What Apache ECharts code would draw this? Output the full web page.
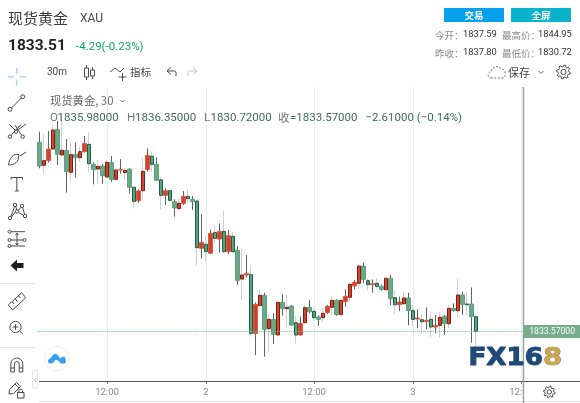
<!DOCTYPE html>
<html>
<head>
<meta charset="utf-8">
<style>
html,body{margin:0;padding:0;background:#fff;overflow:hidden}
#c{width:580px;height:403px;filter:blur(0.3px)}
</style>
<script src="https://cdn.jsdelivr.net/npm/echarts@6/dist/echarts.min.js"></script>
</head>
<body>
<div id="c"></div>
<script>
const opens = [1864.40,1860.65,1861.41,1863.31,1866.52,1862.34,1863.10,1859.51,1862.44,1861.90,
1862.88,1864.07,1860.81,1860.05,1860.54,1858.75,1861.14,1858.37,1859.89,1859.46,
1860.05,1857.07,1854.89,1856.52,1859.95,1862.12,1860.81,1858.29,1855.76,1856.52,
1854.73,1853.59,1854.46,1855.60,1855.11,1854.84,1847.12,1847.77,1846.31,1849.68,
1848.64,1849.89,1846.58,1849.08,1846.80,1842.12,1842.78,1842.83,1833.27,1837.78,
1839.46,1834.03,1835.55,1833.00,1838.32,1837.29,1837.72,1835.01,1833.00,1835.01,
1837.51,1836.85,1835.93,1835.82,1836.64,1837.51,1838.65,1836.31,1838.43,1839.14,
1840.98,1841.42,1844.24,1841.85,1841.20,1841.42,1840.93,1840.38,1842.23,1839.08,
1837.94,1838.10,1839.03,1836.96,1835.60,1835.49,1835.17,1835.55,1834.30,1834.57,
1836.04,1834.84,1837.34,1836.96,1839.52,1838.05,1838.05,1835.98];
const closes = [1860.54,1861.41,1863.31,1866.41,1862.44,1863.10,1859.62,1862.39,1861.90,1862.88,
1864.24,1860.92,1859.95,1860.49,1858.97,1861.14,1858.37,1859.89,1860.00,1859.84,
1857.07,1854.78,1856.47,1859.67,1862.28,1860.81,1858.21,1855.76,1856.52,1854.95,
1853.70,1854.46,1855.60,1855.22,1854.73,1847.23,1848.10,1846.58,1849.57,1848.75,
1849.89,1846.58,1849.19,1846.58,1841.91,1842.78,1843.05,1833.27,1838.00,1839.46,
1833.92,1835.55,1833.11,1838.32,1837.29,1837.51,1834.63,1833.00,1834.90,1837.45,
1836.80,1835.82,1835.55,1836.53,1837.67,1838.65,1836.31,1838.65,1839.30,1841.25,
1841.58,1844.24,1842.07,1841.20,1841.36,1840.93,1840.44,1842.23,1838.92,1837.94,
1838.37,1839.03,1836.96,1835.55,1835.77,1835.17,1835.39,1834.30,1834.57,1835.88,
1834.84,1837.34,1836.96,1839.52,1837.99,1837.94,1835.98,1833.57];
const lows = [1860.16,1859.24,1861.09,1863.15,1860.71,1862.17,1856.20,1857.99,1858.64,1861.25,
1862.72,1859.62,1857.55,1857.61,1857.66,1858.64,1857.99,1858.10,1859.29,1858.26,
1856.09,1853.64,1854.57,1855.11,1859.62,1859.62,1858.15,1853.48,1854.19,1854.84,
1852.28,1853.48,1854.19,1854.57,1853.37,1844.30,1845.44,1844.84,1846.25,1847.94,
1846.42,1846.31,1846.20,1846.31,1841.15,1838.70,1842.34,1832.72,1829.74,1837.72,
1829.47,1830.39,1831.53,1833.00,1836.15,1834.19,1834.46,1831.64,1832.89,1834.90,
1836.53,1835.33,1834.46,1835.01,1836.42,1836.26,1836.15,1836.26,1837.61,1838.43,
1840.44,1840.44,1841.42,1840.33,1839.90,1840.44,1840.22,1840.22,1837.89,1836.42,
1836.91,1837.89,1834.57,1834.46,1834.08,1833.16,1833.92,1832.56,1833.27,1832.56,
1833.00,1834.08,1836.80,1835.98,1836.26,1836.26,1831.75,1830.72];
const highs = [1866.14,1865.76,1866.25,1867.22,1867.88,1869.13,1864.94,1864.51,1864.40,1863.69,
1865.43,1866.03,1861.14,1861.52,1860.87,1861.41,1862.17,1860.16,1861.68,1860.27,
1860.16,1857.17,1856.74,1861.90,1863.42,1862.88,1861.95,1858.80,1856.90,1856.74,
1855.11,1855.27,1856.47,1856.74,1855.65,1855.00,1852.72,1849.13,1850.22,1850.93,
1851.20,1853.21,1850.11,1849.84,1847.50,1847.12,1846.04,1844.30,1838.32,1840.49,
1839.90,1836.37,1836.53,1838.32,1839.63,1839.63,1837.89,1836.09,1835.98,1837.89,
1838.70,1837.34,1836.20,1837.51,1837.89,1839.24,1838.81,1838.70,1840.44,1841.53,
1841.96,1844.24,1844.84,1842.23,1842.07,1842.23,1841.25,1842.39,1842.78,1840.22,
1839.24,1840.06,1839.90,1837.89,1837.18,1836.42,1837.51,1836.80,1836.26,1836.80,
1836.26,1837.89,1838.16,1842.23,1840.06,1839.90,1840.76,1836.35];
const barCount = 108;
const tickIndexes = [15, 37, 61, 83, 107];
const tickLabels = ['12:00', '2', '12:00', '3', '12:00'];

const categories = new Array(barCount).fill('');
tickIndexes.forEach((idx, k) => { categories[idx] = tickLabels[k]; });

const CJK = '"Noto Sans CJK SC","Microsoft YaHei",sans-serif';
const LAT = 'Roboto,"Noto Sans CJK SC",sans-serif';

function txt(s, x, y, size, fill, extra) {
  return { type: 'text', z: 10, silent: true,
    style: Object.assign({ text: s, x: x, y: y, fill: fill,
      font: (extra && extra.weight ? extra.weight + ' ' : '') + size + 'px ' + ((extra && extra.family) || LAT),
      align: (extra && extra.align) || 'left', verticalAlign: 'middle' }) };
}
let icoCount = 0;
function ico(d, stroke, w, fill, extra) {
  const name = 'toolIcon' + (icoCount++);
  echarts.graphic.registerShape(name, echarts.graphic.extendPath(d, {}));
  return { type: name, z: 10, silent: true,
    style: Object.assign({ stroke: stroke || 'none', lineWidth: w || 1, fill: fill || 'none' }, extra || {}) };
}
function ring(cx, cy, r) {
  return 'M' + (cx + r) + ' ' + cy + 'A' + r + ' ' + r + ' 0 1 1 ' + (cx - r) + ' ' + cy + 'A' + r + ' ' + r + ' 0 1 1 ' + (cx + r) + ' ' + cy + 'Z';
}
function gear(cx, cy, ro, ri, teeth) {
  let d = '';
  for (let i = 0; i < teeth * 4; i++) {
    const a = i / (teeth * 4) * Math.PI * 2 + Math.PI / (teeth * 4);
    const r = (i % 4 < 2) ? ro : ri;
    d += (i ? 'L' : 'M') + (cx + r * Math.cos(a)).toFixed(2) + ' ' + (cy + r * Math.sin(a)).toFixed(2);
  }
  return d + 'Z';
}
const INK = '#4a4a4a';

const graphics = [
  /* right price-axis panel sits over the time-axis labels */
  { type: 'rect', z: 1, silent: true, shape: { x: 523.5, y: 382, width: 57, height: 19 }, style: { fill: '#fff' } },
  { type: 'rect', z: 1, silent: true, shape: { x: 0, y: 382, width: 38, height: 21 }, style: { fill: '#fff' } },
  { type: 'line', z: 9, silent: true, shape: { x1: 39, y1: 381.5, x2: 580, y2: 381.5 }, style: { stroke: '#555', lineWidth: 1 } },
  { type: 'line', z: 9, silent: true, shape: { x1: 39, y1: 401.5, x2: 580, y2: 401.5 }, style: { stroke: '#e4e4e8', lineWidth: 1 } },
  { type: 'line', z: 9, silent: true, shape: { x1: 523.5, y1: 87, x2: 523.5, y2: 403 }, style: { stroke: '#9a9a9a', lineWidth: 1.4 } },

  /* header */
  txt('现货黄金', 8, 18, 15, '#3a3a3a', { family: CJK }),
  txt('XAU', 80, 18.5, 12, '#4a4a4a'),
  txt('1833.51', 8, 46, 15.5, '#222', { weight: 'bold' }),
  txt('-4.29(-0.23%)', 76, 47, 11.5, '#12a56a'),

  /* top-right buttons + stats */
  { type: 'rect', z: 10, silent: true, shape: { x: 444, y: 8, width: 60, height: 14 }, style: { fill: '#06a0ec' } },
  { type: 'rect', z: 10, silent: true, shape: { x: 511, y: 8, width: 60, height: 14 }, style: { fill: '#0ab3cc' } },
  txt('交易', 474, 15, 9.5, '#fff', { family: CJK, align: 'center', weight: 'bold' }),
  txt('全屏', 541, 15, 9.5, '#fff', { family: CJK, align: 'center', weight: 'bold' }),
  txt('今开：', 435, 35, 9.5, '#888', { family: CJK }),
  txt('1837.59', 463, 35, 9.3, '#333'),
  txt('最高价：', 502, 35, 9.5, '#888', { family: CJK }),
  txt('1844.95', 538, 35, 9.3, '#333'),
  txt('昨收：', 435, 53, 9.5, '#888', { family: CJK }),
  txt('1837.80', 463, 53, 9.3, '#333'),
  txt('最低价：', 502, 53, 9.5, '#888', { family: CJK }),
  txt('1830.72', 538, 53, 9.3, '#333'),

  /* toolbar */
  txt('30m', 47, 72.5, 10, '#444'),
  ico('M86.5 65V68M86.5 77V80M92.5 67V70M92.5 76V79', INK),
  ico('M84.5 68H88.5V77H84.5ZM90.5 70H94.5V76H90.5Z', INK),
  ico('M110 72L115 68L120 72L124 68M122.5 73V81M118.5 77H126.5', INK),
  txt('指标', 130, 72, 10.5, '#444', { family: CJK }),
  ico('M176 76V72.5Q176 71 174.5 71H167.5M171 67.5L167 71L171 74.5', INK),
  ico('M188 76V72.5Q188 71 189.5 71H196.5M193 67.5L197 71L193 74.5', '#c8c8c8'),
  ico('M492 78C487 78 487 72 491 71.5C492 66 499 65 501.5 69C506 69 507 78 502 78Z', '#777', 1, 'none', { lineDash: [2, 1.5] }),
  txt('保存', 508, 72.5, 11, '#444', { family: CJK }),
  ico('M538.5 71L541 73.5L543.5 71', '#666'),
  ico(gear(563.5, 72, 7, 5.2, 8), '#444'),
  ico(ring(563.5, 72, 2.6), '#444'),

  /* chart legend */
  txt('现货黄金, 30', 50, 101, 11.3, '#666', { family: CJK }),
  ico('M120.5 100L122.5 102L124.5 100', '#666'),
  txt('O', 50, 118, 11.5, '#777'),
  txt('1835.98000', 57.5, 118, 11.5, '#3d6d55'),
  txt('H', 127, 118, 11.5, '#777'),
  txt('1836.35000', 135, 118, 11.5, '#3d6d55'),
  txt('L', 204, 118, 11.5, '#777'),
  txt('1830.72000', 210.5, 118, 11.5, '#3d6d55'),
  txt('收', 278, 118, 11.5, '#777', { family: CJK }),
  txt('=1833.57000', 290, 118, 11.5, '#3d6d55'),
  txt('−2.61000 (−0.14%)', 365.5, 118, 11.5, '#3d6d55'),

  /* left tool column */
  ico('M8 76.7H14M19.5 76.7H26M16.7 68V74M16.7 79.5V85.7', '#a5d6f8', 1.6),
  ico(ring(10, 109.3, 1.9) + ring(22.8, 96.7, 1.9) + 'M11.5 108L21.4 98', INK),
  ico(ring(10, 136.7, 1.7) + ring(16, 131.7, 1.7) + ring(22.7, 136.7, 1.7) + 'M11 135.3L21 124.5M17 130.4L26 124M21.7 135.4L15 125M15 130L9.5 124.5', INK),
  ico('M8.5 165C9.5 158 13.5 153 19 154.5L18 160C16 164 12 165 8.5 165ZM20 156L26 152', INK),
  ico('M11 179.5V177.5H22.5V179.5M16.8 177.5V191M14.8 191H18.8', INK),
  ico(ring(10, 218, 1.7) + ring(15, 205, 1.7) + ring(22, 206, 1.7) + ring(25, 216, 1.7) + ring(17, 211.5, 1.7) + 'M11 216.5L14.5 206.7M15.8 206.4L16.7 210M18.3 210.4L21 207.3M22.6 207.6L24.6 214.4M23.4 215.3L18.5 212.3M15.6 211.9L11.4 216.9', INK),
  ico(ring(9.5, 231.7, 1.5) + ring(9.5, 240, 1.5) + ring(9.5, 246, 1.5) + ring(24.5, 240, 1.5) + 'M11 231.7H25M11 240H23M11 246H25M17 233V245M15.4 235L17 233L18.6 235M15.4 243L17 245L18.6 243', INK),
  ico('M10.5 265.5L17 259.5V263H23.5V268H17V271.5Z', null, 1, '#1c1f26'),
  { type: 'line', z: 9, silent: true, shape: { x1: 0, y1: 283.5, x2: 35, y2: 283.5 }, style: { stroke: '#e2e2e2' } },
  ico('M8.3 305L21.7 292.7L25.7 297.7L12.7 310ZM12 301.5L14 304M15 298.7L17.5 301.7M18.4 295.8L20.4 298.2', INK),
  ico(ring(15.5, 327, 5.6) + 'M19.6 331L22.8 334.2M12.7 327H18.3M15.5 324.2V329.8', INK),
  { type: 'line', z: 9, silent: true, shape: { x1: 0, y1: 347.5, x2: 35, y2: 347.5 }, style: { stroke: '#e2e2e2' } },
  ico('M10.8 372V364A6 6 0 0 1 22.8 364V372H19.2V364A2.4 2.4 0 0 0 14.4 364V372ZM10.8 368H14.4M19.2 368H22.8', INK),
  ico('M9 394L9.5 389.5L16.5 382.5L20.5 386.5L13.5 393.5ZM15 384L19 388M17.5 392.5H24V398H17.5ZM19 392.5V390.5A1.8 1.8 0 0 1 22.5 390.5V392.5', INK),
  { type: 'rect', z: 10, silent: true, shape: { x: 32.5, y: 370, width: 5, height: 19, r: 2.5 }, style: { fill: '#fff', stroke: '#e4e4ea' } },
  ico('M36 378L34.5 380L36 382', '#b8b8c0'),

  /* cloud badge */
  { type: 'circle', z: 10, silent: true, shape: { cx: 57, cy: 358.7, r: 12.3 }, style: { fill: '#fff', stroke: '#eeeeee', lineWidth: 1 } },
  ico('M50.5 363.5C47.5 363.5 47 359.8 49.5 359L53.5 354.5C54.8 353.4 56.4 353.8 57.2 354.8L60.5 358.4L62 357C63.6 356 66.5 357.5 65.6 360C67 362 65 363.5 63.5 363.5L61 363.5L58 360.5C57 359.5 55.8 359.5 55 360.5L52.5 363.5Z', null, 1, '#36a0ee'),

  /* FX168 mark */
  { type: 'text', z: 10, silent: true, x: 468.5, y: 359, scaleX: 1.09, style: { text: 'FX16', x: 0, y: 0, font: '900 24px "DejaVu Sans"', fill: '#1f4a78', stroke: '#1f4a78', lineWidth: 1, verticalAlign: 'middle', align: 'left' } },
  { type: 'text', z: 10, silent: true, x: 543, y: 359, scaleX: 1.15, style: { text: '8', x: 0, y: 0, font: '900 24px "DejaVu Sans"',
      fill: '#c9a650', stroke: '#6e5a28', lineWidth: 0.6, verticalAlign: 'middle', align: 'left' } },

  /* bottom-right gear */
  ico(gear(549.3, 392, 5.8, 4.3, 8), '#444', 1),
  ico(ring(549.3, 392, 2.2), '#444')
];

const wickData = opens.map((o, i) => ({
  value: [o, closes[i], lows[i], highs[i]],
  itemStyle: (() => {
    const c = i % 2 === 0 ? '#606060' : '#cfcfcf';
    return { color: c, color0: c, borderColor: c, borderColor0: c };
  })()
}));
const bodyData = opens.map((o, i) => {
  const down = closes[i] < o;
  const sharp = i % 2 === 1;
  const fill = down ? (sharp ? '#5aa47f' : '#6aa986') : (sharp ? '#d8432e' : '#cf4330');
  const edge = down ? (sharp ? '#1f5c40' : '#5f9f7e') : (sharp ? '#7c1f12' : '#dd5a45');
  return {
    value: [o, closes[i], Math.min(o, closes[i]), Math.max(o, closes[i])],
    itemStyle: { color: fill, color0: fill, borderColor: edge, borderColor0: edge }
  };
});

const chart = echarts.init(document.getElementById('c'));
chart.setOption({
  animation: false,
  backgroundColor: '#fff',
  grid: { left: 37.25, top: 87, width: 486, height: 294 },
  xAxis: {
    type: 'category', data: categories, boundaryGap: true,
    axisLine: { show: false },
    axisTick: { show: true, alignWithLabel: true, length: 3, lineStyle: { color: '#777' },
      interval: (i) => categories[i] !== '' },
    axisLabel: { interval: (i) => categories[i] !== '', color: '#888', fontSize: 9.5, margin: 7,
      fontFamily: 'Roboto', hideOverlap: false },
    splitLine: { show: true, alignWithLabel: true, interval: (i) => categories[i] !== '',
      lineStyle: { color: '#e6edf4', width: 1 } }
  },
  yAxis: { type: 'value', min: 1825.50, max: 1873.42, show: false, scale: true, splitLine: { show: false } },
  graphic: graphics,
  series: [
    { type: 'candlestick', name: 'wick', data: wickData, barWidth: 1, silent: true, z: 2 },
    { type: 'candlestick', name: 'body', data: bodyData, barWidth: 4, silent: true, z: 3,
      markLine: { silent: true, symbol: 'none', animation: false,
        label: { position: 'end', distance: 0, formatter: (p) => p.value.toFixed(5), color: '#fff',
          backgroundColor: '#76ad8c', padding: [2, 5, 2, 6], fontSize: 8.6, fontFamily: 'Roboto' },
        data: [{ yAxis: closes[closes.length - 1],
          lineStyle: { type: 'dotted', color: '#6fc08f', width: 1, opacity: 1 } }] } }
  ]
});
</script>
</body>
</html>
